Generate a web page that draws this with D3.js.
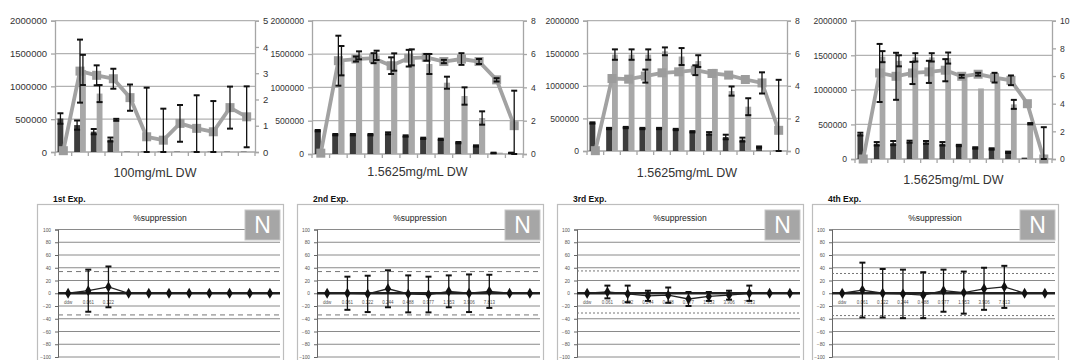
<!DOCTYPE html>
<html>
<head>
<meta charset="utf-8">
<script src="https://cdn.jsdelivr.net/npm/d3@7"></script>
<style>
  body { margin: 0; background: #fff; }
  text { font-family: "Liberation Sans", Arial, sans-serif; }
</style>
</head>
<body>
<div id="chart"></div>
<script>
// ---- top charts: dark bars / light bars on left axis, line on right axis ----
const dark1 = [510000, 410000, 310000, 190000, 5000, 5000, 5000, 5000, 5000, 5000, 5000, 5000]
const dark1Err = [80000, 70000, 40000, 30000, 0, 0, 0, 0, 0, 0, 0, 0]
const light1 = [0, 1250000, 890000, 490000, 0, 0, 0, 0, 0, 0, 0, 0]
const light1Err = [0, 230000, 130000, 15000, 0, 0, 0, 0, 0, 0, 0, 0]
const line1 = [0.05, 3.08, 2.92, 2.79, 2.07, 0.58, 0.45, 1.09, 0.9, 0.77, 1.69, 1.34]
const line1Err = [0, 1.2, 0.38, 0.38, 0.5, 1.87, 1.2, 0.7, 1.26, 1.17, 0.8, 1.16]

const dark2 = [350000, 290000, 290000, 290000, 310000, 270000, 235000, 220000, 170000, 120000, 15000, 15000]
const dark2Err = [10000, 10000, 10000, 10000, 15000, 10000, 10000, 10000, 10000, 10000, 5000, 5000]
const light2 = [0, 1400000, 1480000, 1480000, 1380000, 1450000, 1350000, 1070000, 870000, 540000, 20000, 0]
const light2Err = [0, 220000, 60000, 70000, 130000, 120000, 150000, 90000, 130000, 100000, 0, 0]
const line2 = [0.05, 5.6, 5.7, 5.75, 5.3, 5.75, 5.8, 5.55, 5.7, 5.55, 4.45, 1.7]
const line2Err = [0, 1.5, 0.15, 0.3, 0.5, 0.5, 0.2, 0.1, 0.35, 0.15, 0.1, 2.1]

const dark3 = [430000, 345000, 360000, 345000, 345000, 330000, 295000, 270000, 215000, 175000, 60000, 5000]
const dark3Err = [10000, 10000, 10000, 10000, 10000, 10000, 10000, 20000, 35000, 30000, 10000, 0]
const light3 = [0, 1480000, 1480000, 1480000, 1530000, 1450000, 1380000, 1260000, 920000, 680000, 0, 0]
const light3Err = [0, 80000, 80000, 80000, 60000, 130000, 90000, 0, 70000, 130000, 0, 0]
const line3 = [0.02, 4.45, 4.41, 4.6, 4.8, 4.86, 4.96, 4.76, 4.66, 4.39, 4.18, 1.27]
const line3Err = [0, 0, 0, 0.4, 0, 0, 0.3, 0, 0, 0, 0.65, 3.1]

const dark4 = [360000, 220000, 230000, 250000, 240000, 220000, 195000, 160000, 145000, 97000, 20000, 0]
const dark4Err = [20000, 25000, 30000, 15000, 20000, 25000, 10000, 10000, 10000, 10000, 0, 0]
const light4 = [0, 1480000, 1420000, 1470000, 1470000, 1460000, 1200000, 1020000, 1180000, 790000, 510000, 5000]
const light4Err = [0, 80000, 80000, 60000, 60000, 80000, 0, 0, 0, 65000, 10000, 0]
const line4 = [0, 6.22, 5.98, 6.22, 6.3, 6.42, 5.98, 6.13, 5.88, 5.69, 4.0, 0]
const line4Err = [0, 2.1, 1.7, 0.8, 0.8, 0.8, 0.1, 0.1, 0.35, 0.35, 0, 2.3]

const leftTicks = [0, 500000, 1000000, 1500000, 2000000]
const topLabels = ["100mg/mL DW", "1.5625mg/mL DW", "1.5625mg/mL DW", "1.5625mg/mL DW"]

// ---- bottom charts: %suppression ----
const supp1 = [0, 4, 10, 0, 0, 0, 0, 0, 0, 0, 0]
const supp1Err = [0, 33, 32, 0, 0, 0, 0, 0, 0, 0, 0]
const supp2 = [0, 0, -1, 7, -1, -2, 3, 0, 3, 0, 0]
const supp2Err = [0, 26, 28.5, 29, 29, 28, 25, 29.5, 26, 0, 0]
const supp3 = [0, 2, -1, -4, -3, -9, -5, -3, 0, 0, 0]
const supp3Err = [0, 10, 13, 8, 12, 11, 7, 7, 12, 0, 0]
const supp4 = [0, 5, 0, -1, -3, 4, 1, 7, 10, 0, 0]
const supp4Err = [0, 43, 38, 38, 36, 33, 33, 33, 33, 0, 0]

const concLabels = ["ddw", "0.061", "0.122", "0.244", "0.488", "0.977", "1.953", "3.906", "7.813"]
const expLabels = ["1st Exp.", "2nd Exp.", "3rd Exp.", "4th Exp."]
const suppTicks = [-100, -80, -60, -40, -20, 0, 20, 40, 60, 80, 100]
const thresholds = [[34, -34], [34, -34], [35, -31], [31, -35]]

const svg = d3.select("#chart").append("svg")
  .attr("width", 1071).attr("height", 360)

function errBar(g, cx, y0, y1, cap) {
  g.append("line").attr("x1", cx).attr("x2", cx).attr("y1", y0).attr("y2", y1)
    .attr("stroke", "#111").attr("stroke-width", 1.3)
  for (const yy of [y0, y1]) {
    g.append("line").attr("x1", cx - cap).attr("x2", cx + cap).attr("y1", yy).attr("y2", yy)
      .attr("stroke", "#111").attr("stroke-width", 2)
  }
}

function drawTop(p) {
  const g = svg.append("g")
  const y = d3.scaleLinear().domain([0, 2000000]).range([p.bottom, p.top])
  const yr = d3.scaleLinear().domain([0, p.rmax]).range([p.bottom, p.top])
  const x = d3.scaleBand().domain(d3.range(12)).range([p.left, p.right])
    .paddingInner(0.3).paddingOuter(0.15)
  const step = x.step()
  const cx = i => x(i) + x.bandwidth() / 2
  const bw = x.bandwidth() / 2

  // gridlines
  g.append("g").selectAll("line").data(leftTicks.slice(1)).join("line")
    .attr("x1", p.left).attr("x2", p.right)
    .attr("y1", d => y(d)).attr("y2", d => y(d))
    .attr("stroke", "#b2b2b2").attr("stroke-width", 1.3)

  const la = g.append("g").attr("transform", `translate(${p.left},0)`)
    .call(d3.axisLeft(y).tickValues(leftTicks).tickFormat(d3.format("d")).tickSize(4).tickPadding(4))
  const ra = g.append("g").attr("transform", `translate(${p.right},0)`)
    .call(d3.axisRight(yr).ticks(p.rmax / p.rstep).tickSize(4).tickPadding(4))
  for (const a of [la, ra]) {
    a.selectAll("path,line").attr("stroke", "#a6a6a6").attr("stroke-width", 1.3)
    a.selectAll("text").attr("fill", "#333").style("font-size", p.font + "px")
  }

  // category axis with ticks between categories
  g.append("line").attr("x1", p.left).attr("x2", p.right).attr("y1", p.bottom).attr("y2", p.bottom)
    .attr("stroke", "#a6a6a6").attr("stroke-width", 1.3)
  g.append("g").selectAll("line").data(d3.range(13)).join("line")
    .attr("x1", d => p.left + d * step).attr("x2", d => p.left + d * step)
    .attr("y1", p.bottom).attr("y2", p.bottom + 4)
    .attr("stroke", "#a6a6a6").attr("stroke-width", 1.3)

  g.append("g").selectAll("rect").data(p.dark).join("rect")
    .attr("x", (d, i) => cx(i) - bw).attr("width", bw)
    .attr("y", d => y(d)).attr("height", d => p.bottom - y(d))
    .attr("fill", "#3c3c3c")
  g.append("g").selectAll("rect").data(p.light).join("rect")
    .attr("x", (d, i) => cx(i)).attr("width", bw)
    .attr("y", d => y(d)).attr("height", d => p.bottom - y(d))
    .attr("fill", "#a8a8a8")

  g.append("path").datum(p.line)
    .attr("d", d3.line().x((d, i) => cx(i)).y(d => yr(d)))
    .attr("fill", "none").attr("stroke", "#a2a2a2").attr("stroke-width", 3.8)
  g.append("g").selectAll("rect").data(p.line).join("rect")
    .attr("x", (d, i) => cx(i) - 4.5).attr("y", d => yr(d) - 4.5)
    .attr("width", 9).attr("height", 9).attr("fill", "#9c9c9c")

  const eg = g.append("g")
  p.dark.forEach((d, i) => {
    if (p.darkErr[i] > 0) errBar(eg, cx(i) - bw / 2, y(Math.max(0, d - p.darkErr[i])), y(d + p.darkErr[i]), 3)
  })
  p.light.forEach((d, i) => {
    if (p.lightErr[i] > 0) errBar(eg, cx(i) + bw / 2, y(Math.max(0, d - p.lightErr[i])), y(d + p.lightErr[i]), 3)
  })
  p.line.forEach((d, i) => {
    if (p.lineErr[i] > 0) errBar(eg, cx(i), yr(Math.max(0, d - p.lineErr[i])), yr(d + p.lineErr[i]), 3)
  })

  g.append("text").attr("x", (p.left + p.right) / 2).attr("y", p.labelY)
    .attr("text-anchor", "middle").attr("fill", "#333").style("font-size", "12.5px")
    .text(p.label)
}

drawTop({ left: 55, right: 255, top: 20.7, bottom: 152, rmax: 5, rstep: 1, font: 9.5,
  dark: dark1, darkErr: dark1Err, light: light1, lightErr: light1Err, line: line1, lineErr: line1Err,
  label: topLabels[0], labelY: 177 })
drawTop({ left: 312, right: 523, top: 20.7, bottom: 154, rmax: 8, rstep: 2, font: 8.6,
  dark: dark2, darkErr: dark2Err, light: light2, lightErr: light2Err, line: line2, lineErr: line2Err,
  label: topLabels[1], labelY: 176 })
drawTop({ left: 587, right: 787, top: 20.7, bottom: 151, rmax: 8, rstep: 2, font: 8.6,
  dark: dark3, darkErr: dark3Err, light: light3, lightErr: light3Err, line: line3, lineErr: line3Err,
  label: topLabels[2], labelY: 177 })
drawTop({ left: 855, right: 1052, top: 20.7, bottom: 159, rmax: 10, rstep: 2, font: 8.6,
  dark: dark4, darkErr: dark4Err, light: light4, lightErr: light4Err, line: line4, lineErr: line4Err,
  label: topLabels[3], labelY: 184 })

function drawBottom(b) {
  const g = svg.append("g")
  const boxW = 246
  const plotL = b.bx + b.axisOff, plotR = b.bx + boxW - 3
  const y = d3.scaleLinear().domain([-100, 100]).range([357, 229.5])
  const x = d3.scaleBand().domain(d3.range(11)).range([plotL, plotR])
  const cx = i => x(i) + x.bandwidth() / 2

  g.append("text").attr("x", b.bx + 16).attr("y", 202)
    .attr("fill", "#111").style("font-size", "8.5px").style("font-weight", "bold")
    .text(b.exp)
  g.append("rect").attr("x", b.bx + 0.5).attr("y", 204.5).attr("width", boxW).attr("height", 200)
    .attr("fill", "#fff").attr("stroke", "#bdbdbd").attr("stroke-width", 1.2)
  g.append("text").attr("x", b.bx + boxW / 2).attr("y", 221)
    .attr("text-anchor", "middle").attr("fill", "#222").style("font-size", "8.5px")
    .text("%suppression")

  g.append("g").selectAll("line").data(suppTicks.filter(d => d !== 0)).join("line")
    .attr("x1", plotL).attr("x2", plotR).attr("y1", d => y(d)).attr("y2", d => y(d))
    .attr("stroke", "#8a8a8a").attr("stroke-width", 1)

  const ax = g.append("g").attr("transform", `translate(${plotL},0)`)
    .call(d3.axisLeft(y).tickValues(suppTicks).tickSize(3).tickPadding(4))
  ax.selectAll("path,line").attr("stroke", "#666")
  ax.selectAll("text").attr("fill", "#555").style("font-size", "4.8px")

  // N badge
  g.append("rect").attr("x", plotR - 35).attr("y", 210).attr("width", 35).attr("height", 30)
    .attr("fill", "#a6a6a6").attr("stroke", "#c8c8c8")
  g.append("text").attr("x", plotR - 17.5).attr("y", 233).attr("text-anchor", "middle")
    .attr("fill", "#fff").style("font-size", "23px").text("N")

  g.append("g").selectAll("line").data(b.dash).join("line")
    .attr("x1", plotL).attr("x2", plotR).attr("y1", d => y(d)).attr("y2", d => y(d))
    .attr("stroke", "#777").attr("stroke-width", 1).attr("stroke-dasharray", b.dashArr)

  g.append("line").attr("x1", plotL).attr("x2", plotR).attr("y1", y(0)).attr("y2", y(0))
    .attr("stroke", "#222").attr("stroke-width", 2.3)

  g.append("g").selectAll("text").data(b.labels).join("text")
    .attr("x", (d, i) => cx(i)).attr("y", y(0) + 11).attr("text-anchor", "middle")
    .attr("fill", "#555").style("font-size", "4.5px").text(d => d)

  g.append("path").datum(b.vals)
    .attr("d", d3.line().x((d, i) => cx(i)).y(d => y(d)))
    .attr("fill", "none").attr("stroke", "#222").attr("stroke-width", 1.3)

  const eg = g.append("g")
  b.vals.forEach((d, i) => {
    if (b.errs[i] > 0) errBar(eg, cx(i), y(d - b.errs[i]), y(d + b.errs[i]), 3)
  })

  g.append("g").selectAll("path").data(b.vals).join("path")
    .attr("transform", (d, i) => `translate(${cx(i)},${y(d)})`)
    .attr("d", d3.symbol(d3.symbolDiamond, 34))
    .attr("fill", "#111")
}

drawBottom({ bx: 37, axisOff: 21, exp: expLabels[0], vals: supp1, errs: supp1Err,
  labels: concLabels.slice(0, 3), dash: thresholds[0], dashArr: "5,4" })
drawBottom({ bx: 297, axisOff: 20, exp: expLabels[1], vals: supp2, errs: supp2Err,
  labels: concLabels, dash: thresholds[1], dashArr: "5,4" })
drawBottom({ bx: 557, axisOff: 20, exp: expLabels[2], vals: supp3, errs: supp3Err,
  labels: concLabels, dash: thresholds[2], dashArr: "2,2" })
drawBottom({ bx: 812, axisOff: 20, exp: expLabels[3], vals: supp4, errs: supp4Err,
  labels: concLabels, dash: thresholds[3], dashArr: "2,2" })
</script>
</body>
</html>
